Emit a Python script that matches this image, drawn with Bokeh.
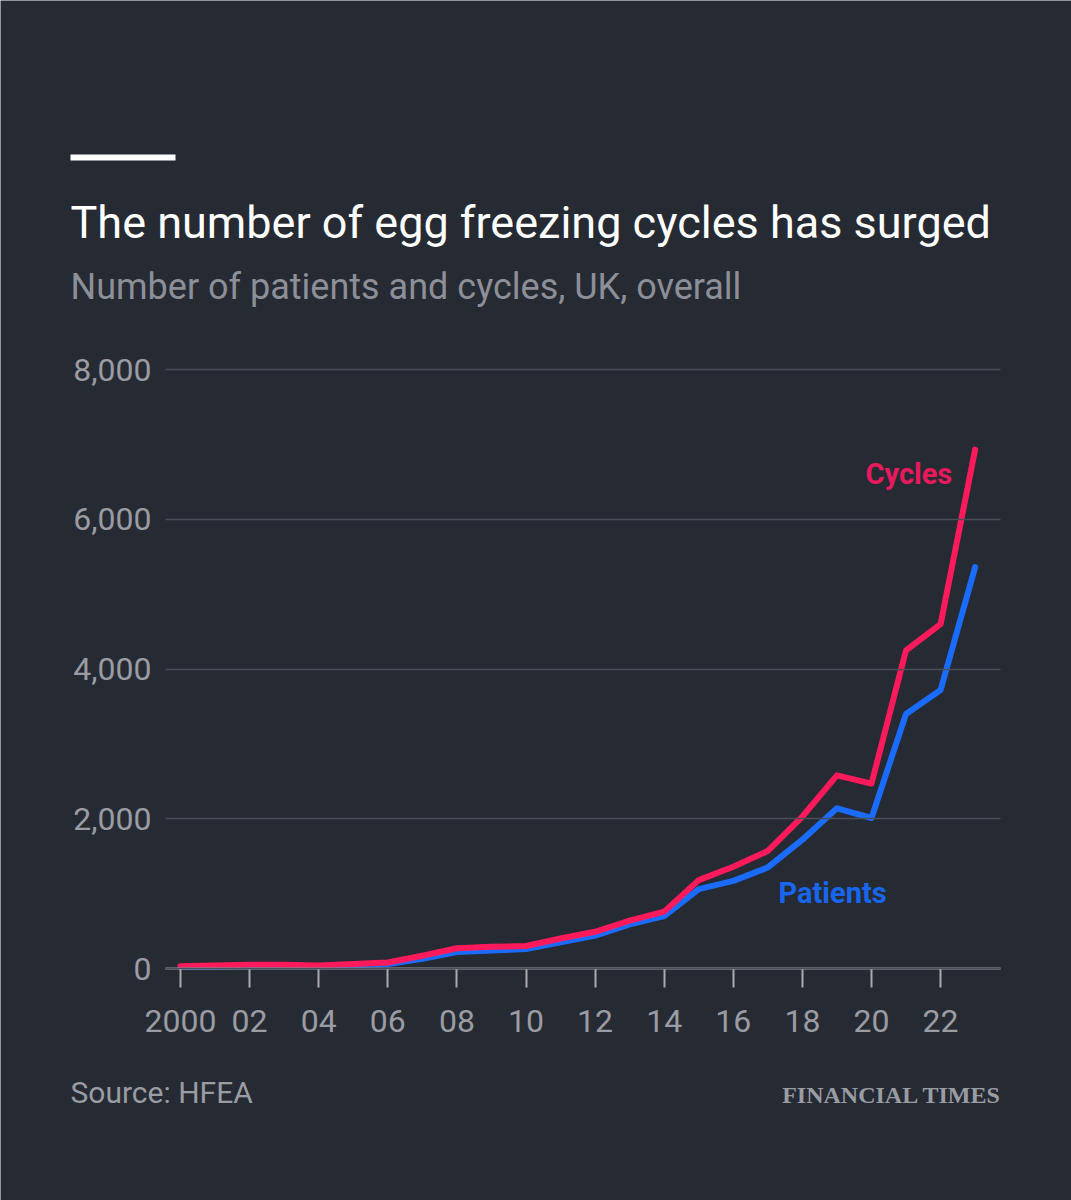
from bokeh.plotting import figure
from bokeh.models import Range1d, FixedTicker, NumeralTickFormatter, Label, BoxAnnotation
from bokeh.embed import file_html
from bokeh.resources import INLINE

# ---- data ----
years = list(range(2000, 2024))
cycles = [30, 40, 50, 50, 40, 60, 80, 170, 270, 290, 300, 400, 490, 640, 760,
          1180, 1360, 1570, 2030, 2580, 2470, 4250, 4600, 6930]
patients = [20, 25, 30, 30, 30, 45, 60, 130, 220, 240, 260, 350, 440, 590, 700,
            1060, 1170, 1350, 1720, 2140, 2010, 3400, 3720, 5360]
y_ticks = [0, 2000, 4000, 6000, 8000]
x_ticks = list(range(2000, 2023, 2))
x_tick_labels = ["2000", "02", "04", "06", "08", "10", "12", "14", "16", "18", "20", "22"]

title = "The number of egg freezing cycles has surged"
subtitle = "Number of patients and cycles, UK, overall"
source = "Source: HFEA"
brand = "FINANCIAL TIMES"

BG = "#262a33"
RED = "#ff1a5c"
BLUE = "#1a6cff"
GREY = "#9a9ca3"
GRID = "#4a4e58"
FONT = "Roboto"

# page-pixel -> data helpers (for placing the non-data annotations)
PX_YEAR = 34.55
PX_K = 74.875
def dx(px):
    return 2000 + (px - 180) / PX_YEAR
def dy(py):
    return (968 - py) / PX_K * 1000

PLOT_L, PLOT_R = 165, 1000

p = figure(width=1071, height=1200, output_backend="svg", toolbar_location=None,
           x_range=Range1d(dx(0), dx(1071)), y_range=Range1d(dy(1200), dy(0)),
           min_border=0)
p.background_fill_color = BG
p.border_fill_color = BG
p.outline_line_color = None
p.xgrid.grid_line_color = None
p.ygrid.grid_line_color = None

# y axis pinned at the plot's left edge; its long inward ticks act as gridlines
p.yaxis.fixed_location = dx(PLOT_L)
p.yaxis.bounds = (0, 8000)
p.yaxis.ticker = FixedTicker(ticks=y_ticks)
p.yaxis.formatter = NumeralTickFormatter(format="0,0")
p.yaxis.axis_line_color = None
p.yaxis.major_tick_line_color = GRID
p.yaxis.major_tick_line_width = 1.5
p.yaxis.minor_tick_line_color = None
p.yaxis.major_tick_out = 0
p.yaxis.major_tick_in = PLOT_R - PLOT_L
p.yaxis.major_label_standoff = 14
p.yaxis.major_label_text_font = FONT
p.yaxis.major_label_text_font_size = "32px"
p.yaxis.major_label_text_color = GREY

# x axis pinned at zero
p.xaxis.fixed_location = 0
p.xaxis.bounds = (dx(PLOT_L), dx(PLOT_R))
p.xaxis.ticker = FixedTicker(ticks=x_ticks)
p.xaxis.major_label_overrides = {t: l for t, l in zip(x_ticks, x_tick_labels)}
p.xaxis.axis_line_color = "#a8aaae"
p.xaxis.axis_line_width = 2
p.xaxis.major_tick_line_color = "#a8aaae"
p.xaxis.major_tick_line_width = 2
p.xaxis.major_tick_out = 19
p.xaxis.major_tick_in = 0
p.xaxis.minor_tick_line_color = None
p.xaxis.major_label_standoff = 22
p.xaxis.major_label_text_font = FONT
p.xaxis.major_label_text_font_size = "32px"
p.xaxis.major_label_text_color = GREY

# lines
p.line(years, patients, line_color=BLUE, line_width=6, line_join="round", line_cap="round")
p.line(years, cycles, line_color=RED, line_width=6, line_join="round", line_cap="round")

# series labels
p.add_layout(Label(x=dx(865), y=dy(473), text="Cycles", text_font=FONT, text_font_size="29px",
                   text_color="#e8195c", text_font_style="bold", text_baseline="alphabetic"))
p.add_layout(Label(x=dx(778), y=dy(892), text="Patients", text_font=FONT, text_font_size="29px",
                   text_color="#1866ee", text_font_style="bold", text_baseline="alphabetic"))

# header
p.add_layout(BoxAnnotation(left=dx(70), right=dx(175), top=dy(154), bottom=dy(160),
                           fill_color="white", fill_alpha=1, line_color=None))
p.add_layout(Label(x=dx(70), y=dy(222), text=title, text_font=FONT, text_font_size="45px",
                   text_color="white", text_baseline="alphabetic"))
p.add_layout(Label(x=dx(70), y=dy(286), text=subtitle, text_font=FONT, text_font_size="36px",
                   text_color="#8c8f97", text_baseline="alphabetic"))

# footer
p.add_layout(Label(x=dx(70), y=dy(1092), text=source, text_font=FONT, text_font_size="30px",
                   text_color=GREY, text_baseline="alphabetic"))
p.add_layout(Label(x=dx(1001), y=dy(1094), text=brand, text_font="Liberation Serif", text_font_size="24px",
                   text_color=GREY, text_font_style="bold", text_align="right", text_baseline="alphabetic"))

open("out.html", "w").write(file_html(p, INLINE))
